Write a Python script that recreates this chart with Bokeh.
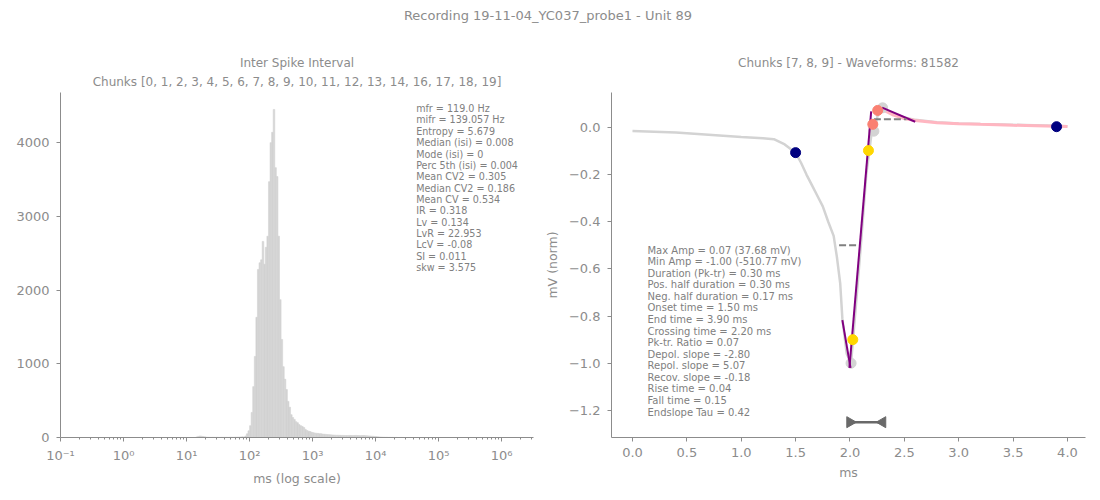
import numpy as np
from bokeh.plotting import figure
from bokeh.layouts import row, column
from bokeh.models import Div, FixedTicker, Label, NumeralTickFormatter, Title
from bokeh.embed import file_html
from bokeh.resources import INLINE

FONT = "DejaVu Sans"
GREY_TXT = "#8c8c8c"
AXIS_COL = "#8c8c8c"

suptitle = "Recording 19-11-04_YC037_probe1 - Unit 89"
isi_title = "Inter Spike Interval"
isi_subtitle = "Chunks [0, 1, 2, 3, 4, 5, 6, 7, 8, 9, 10, 11, 12, 13, 14, 16, 17, 18, 19]"
wf_title = "Chunks [7, 8, 9] - Waveforms: 81582"

# ISI histogram: log10(ms) bins
isi_log_start = 1.15
isi_log_step = 0.025
isi_counts = [
    8, 15, 20, 18, 12, 10, 6, 4,
    3, 2, 3, 2, 2, 3, 2, 2, 3, 2, 3, 3, 2, 3, 4, 3, 4, 5, 5, 6, 8, 10,
    5, 20, 50, 90, 160, 340, 690, 1100, 1630, 2280, 2370, 2410, 2660, 2350,
    2580, 2730, 3470, 4000, 4140, 4450, 3660, 3540, 2730, 1870, 1330, 960,
    790, 650, 490, 410, 310, 270, 245, 215, 200, 175, 160, 150, 135, 110,
    95, 85, 80, 70,
    65, 60, 58, 55, 52, 50, 46, 44, 42, 40, 38, 36, 34, 33, 32, 30, 30, 29,
    28, 28, 27, 27, 26, 28, 27, 26, 27, 28, 27, 26, 25, 26, 27, 25, 24, 22,
    20, 18, 16, 14, 12, 10, 8, 6, 5, 4, 3, 3, 2, 2, 2, 1, 1, 1, 0, 0, 1, 0,
]

isi_stats = [
    "mfr = 119.0 Hz", "mifr = 139.057 Hz", "Entropy = 5.679",
    "Median (isi) = 0.008", "Mode (isi) = 0", "Perc 5th (isi) = 0.004",
    "Mean CV2 = 0.305", "Median CV2 = 0.186", "Mean CV = 0.534",
    "IR = 0.318", "Lv = 0.134", "LvR = 22.953", "LcV = -0.08",
    "SI = 0.011", "skw = 3.575",
]

wf_stats = [
    "Max Amp = 0.07 (37.68 mV)", "Min Amp = -1.00 (-510.77 mV)",
    "Duration (Pk-tr) = 0.30 ms", "Pos. half duration = 0.30 ms",
    "Neg. half duration = 0.17 ms", "Onset time = 1.50 ms",
    "End time = 3.90 ms", "Crossing time = 2.20 ms", "Pk-tr. Ratio = 0.07",
    "Depol. slope = -2.80", "Repol. slope = 5.07", "Recov. slope = -0.18",
    "Rise time = 0.04", "Fall time = 0.15", "Endslope Tau = 0.42",
]

# mean waveform (ms, normalised mV)
wave_t = [0.0, 0.2, 0.4, 0.6, 0.8, 1.0, 1.2, 1.3, 1.4, 1.5, 1.55, 1.6, 1.65,
          1.7, 1.75, 1.8, 1.85, 1.88, 1.91, 1.93, 1.97, 2.01, 2.05, 2.1,
          2.15, 2.2, 2.22, 2.26, 2.3, 2.35, 2.4, 2.5, 2.6, 2.8, 3.0, 3.2,
          3.4, 3.6, 3.8, 4.0]
wave_v = [-0.015, -0.018, -0.022, -0.028, -0.034, -0.041, -0.046, -0.05,
          -0.072, -0.107, -0.15, -0.2, -0.245, -0.29, -0.335, -0.40, -0.46,
          -0.55, -0.66, -0.81, -0.96, -1.0, -0.78, -0.5, -0.2, -0.02, -0.015,
          0.06, 0.08, 0.07, 0.058, 0.042, 0.032, 0.022, 0.017, 0.014, 0.012,
          0.01, 0.008, 0.005]

fit_t = [2.3, 2.4, 2.5, 2.6, 2.8, 3.0, 3.2, 3.5, 3.8, 4.0]
fit_v = [0.075, 0.052, 0.038, 0.029, 0.02, 0.016, 0.013, 0.009, 0.006, 0.004]

depol_t = [1.93, 2.005]
depol_v = [-0.817, -1.02]
repol_t = [1.995, 2.195]
repol_v = [-1.02, 0.068]
recov_t = [2.296, 2.60]
recov_v = [0.084, 0.024]

neg_half_t = [1.90, 2.07]
neg_half_v = [-0.5, -0.5]
pos_half_t = [2.22, 2.52]
pos_half_v = [0.035, 0.035]

dur_t = [2.0, 2.3]
dur_v = [-1.25, -1.25]

grey_pt_t = [2.01, 2.22, 2.30]
grey_pt_v = [-1.0, -0.016, 0.083]
onset_end_t = [1.5, 3.9]
onset_end_v = [-0.107, 0.003]
gold_t = [2.026, 2.17]
gold_v = [-0.9, -0.098]
salmon_t = [2.21, 2.255]
salmon_v = [0.013, 0.072]


def style_axes(p):
    for ax in (p.xaxis, p.yaxis):
        ax.axis_line_color = AXIS_COL
        ax.major_tick_line_color = AXIS_COL
        ax.minor_tick_line_color = AXIS_COL
        ax.major_tick_out = 4
        ax.major_tick_in = 0
        ax.minor_tick_out = 2
        ax.minor_tick_in = 0
        ax.major_label_text_color = GREY_TXT
        ax.major_label_text_font = FONT
        ax.major_label_text_font_size = "13px"
        ax.axis_label_text_color = GREY_TXT
        ax.axis_label_text_font = FONT
        ax.axis_label_text_font_size = "12.5px"
        ax.axis_label_text_font_style = "normal"
        ax.major_label_standoff = 6
    p.yaxis.major_label_standoff = 7
    p.xgrid.visible = False
    p.ygrid.visible = False
    p.outline_line_color = None
    p.title.text_color = GREY_TXT
    p.title.text_font = FONT
    p.title.text_font_size = "12px"
    p.title.text_font_style = "normal"
    p.title.align = "center"
    p.title.standoff = 0


def inner_title(p, text):
    p.add_layout(Title(text=text, align="center", text_color=GREY_TXT,
                       text_font=FONT, text_font_size="12px",
                       text_font_style="normal", standoff=7), "above")


# ---------- ISI histogram ----------
p1 = figure(frame_width=473, frame_height=345, x_axis_type="log",
            x_range=(0.1, 3.2e6), y_range=(0, 4680), title=isi_title,
            output_backend="svg", toolbar_location=None,
            min_border_left=52, min_border_right=7,
            min_border_top=55, min_border_bottom=50)
edges = 10 ** (isi_log_start + isi_log_step * np.arange(len(isi_counts) + 1))
p1.quad(left=edges[:-1], right=edges[1:], bottom=0, top=isi_counts,
        fill_color="#d3d3d3", line_color="#d3d3d3", line_width=0.6)
style_axes(p1)
inner_title(p1, isi_subtitle)
p1.xaxis.ticker = FixedTicker(
    ticks=[0.1, 1, 10, 100, 1000, 10000, 100000, 1000000],
    minor_ticks=[m * 10.0 ** k for k in range(-1, 7) for m in range(2, 10)])
p1.xaxis.major_label_overrides = {
    0.1: "10⁻¹", 1: "10⁰", 10: "10¹", 100: "10²", 1000: "10³",
    10000: "10⁴", 100000: "10⁵", 1000000: "10⁶"}
p1.yaxis.ticker = FixedTicker(ticks=[0, 1000, 2000, 3000, 4000])
p1.xaxis.axis_label = "ms (log scale)"
p1.xaxis.axis_label_standoff = 5

for i, s in enumerate(isi_stats):
    p1.add_layout(Label(x=43950, y=4461 - i * 154.0, text=s,
                        text_font=FONT, text_font_size="9.6px",
                        text_color="#808080", text_baseline="middle"))

# ---------- waveform ----------
p2 = figure(frame_width=474, frame_height=345, x_range=(-0.193, 4.166),
            y_range=(-1.315, 0.148), title=wf_title, output_backend="svg",
            toolbar_location=None, min_border_left=71, min_border_right=5,
            min_border_top=55, min_border_bottom=50)
style_axes(p2)
inner_title(p2, "\u00a0")

p2.line(wave_t, wave_v, line_color="#d3d3d3", line_width=2.5)
p2.line(fit_t, fit_v, line_color="#ffb6c1", line_width=3)
p2.scatter(grey_pt_t, grey_pt_v, size=10, color="#d3d3d3")
p2.line(depol_t, depol_v, line_color="#800080", line_width=2)
p2.line(repol_t, repol_v, line_color="#800080", line_width=2)
p2.line(recov_t, recov_v, line_color="#800080", line_width=2)
p2.line(neg_half_t, neg_half_v, line_color="#808080", line_width=2,
        line_dash="7 3")
p2.line(pos_half_t, pos_half_v, line_color="#808080", line_width=2,
        line_dash="7 3")
p2.scatter(onset_end_t, onset_end_v, size=10, color="#000080")
p2.scatter(gold_t, gold_v, size=10, color="#ffd700")
p2.scatter(salmon_t, salmon_v, size=10, color="#fa8072")

p2.line(dur_t, dur_v, line_color="#696969", line_width=2.5)
p2.scatter([dur_t[0]], [dur_v[0]], marker="triangle", size=11,
           angle=-np.pi / 2, color="#696969")
p2.scatter([dur_t[1]], [dur_v[1]], marker="triangle", size=11,
           angle=np.pi / 2, color="#696969")

p2.xaxis.ticker = FixedTicker(ticks=[0.0, 0.5, 1.0, 1.5, 2.0, 2.5, 3.0, 3.5, 4.0])
p2.xaxis.formatter = NumeralTickFormatter(format="0.0")
y_ticks = [0.0, -0.2, -0.4, -0.6, -0.8, -1.0, -1.2]
p2.yaxis.ticker = FixedTicker(ticks=y_ticks)
p2.yaxis.major_label_overrides = {
    t: ("%.1f" % t).replace("-", "\u2212") for t in y_ticks}
p2.xaxis.axis_label = "ms"
p2.xaxis.axis_label_standoff = 5
p2.yaxis.axis_label = "mV (norm)"
p2.yaxis.axis_label_standoff = 6

for i, s in enumerate(wf_stats):
    p2.add_layout(Label(x=0.138, y=-0.520 - i * 0.04907, text=s,
                        text_font=FONT, text_font_size="10px",
                        text_color="#808080", text_baseline="middle"))

head = Div(text=suptitle, width=1080, height=29, margin=(0, 0, 0, 0),
           styles={"text-align": "center", "font-size": "13px",
                   "color": GREY_TXT, "font-family": FONT,
                   "line-height": "16px"})

layout = column(head, row(p1, p2), margin=(8, 0, 0, 8))
open("out.html", "w").write(file_html(layout, INLINE))
